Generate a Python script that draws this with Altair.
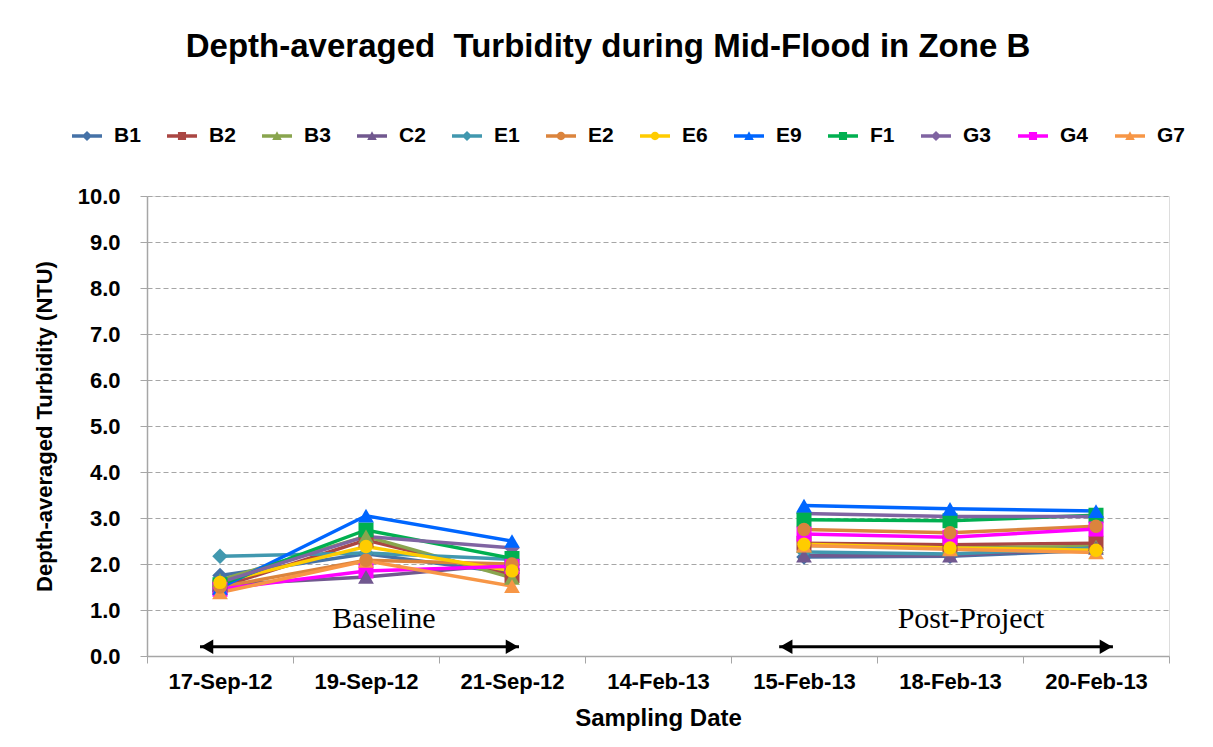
import altair as alt
import pandas as pd

dates = ["17-Sep-12", "19-Sep-12", "21-Sep-12", "14-Feb-13", "15-Feb-13", "18-Feb-13", "20-Feb-13"]
sampled_dates = ["17-Sep-12", "19-Sep-12", "21-Sep-12", "15-Feb-13", "18-Feb-13", "20-Feb-13"]
periods = ["Baseline", "Baseline", "Baseline", "Post-Project", "Post-Project", "Post-Project"]

stations = ["B1", "B2", "B3", "C2", "E1", "E2", "E6", "E9", "F1", "G3", "G4", "G7"]
colors = ["#4572A7", "#AA4643", "#89A54E", "#71588F", "#4198AF", "#DB843D",
          "#FFCC00", "#0066FF", "#00B050", "#8064A2", "#FF00FF", "#F79646"]
markers = ["diamond", "square", "triangle-up", "triangle-up", "diamond", "circle",
           "circle", "triangle-up", "square", "diamond", "square", "triangle-up"]

B1 = [1.75, 2.22, 1.80, 2.15, 2.17, 2.30]
B2 = [1.50, 2.52, 1.75, 2.45, 2.42, 2.45]
B3 = [1.65, 2.60, 1.70, 2.40, 2.35, 2.38]
C2 = [1.55, 1.72, 2.00, 2.18, 2.18, 2.35]
E1 = [2.17, 2.24, 2.10, 2.26, 2.22, 2.35]
E2 = [1.50, 2.08, 2.00, 2.75, 2.68, 2.82]
E6 = [1.60, 2.38, 1.85, 2.43, 2.35, 2.30]
E9 = [1.48, 3.05, 2.50, 3.27, 3.20, 3.15]
F1 = [1.55, 2.74, 2.12, 2.96, 2.94, 3.06]
G3 = [1.60, 2.60, 2.35, 3.10, 3.03, 3.03]
G4 = [1.45, 1.85, 1.95, 2.65, 2.58, 2.76]
G7 = [1.38, 2.07, 1.52, 2.40, 2.32, 2.25]
series = [B1, B2, B3, C2, E1, E2, E6, E9, F1, G3, G4, G7]

ann_labels = ["Baseline", "Post-Project"]
ann_start = ["17-Sep-12", "15-Feb-13"]
ann_end = ["21-Sep-12", "20-Feb-13"]
ann_mid = ["19-Sep-12", "18-Feb-13"]
ann_arrow_y = [0.2, 0.2]
ann_text_y = [0.6, 0.6]

rows = []
for s, m, vals in zip(stations, markers, series):
    for i, (d, p, v) in enumerate(zip(sampled_dates, periods, vals)):
        rows.append(dict(Station=s, Marker=m, Date=d, Period=p, Turbidity=v, idx=i))
df = pd.DataFrame(rows)

ann = pd.DataFrame(dict(label=ann_labels, start=ann_start, end=ann_end, mid=ann_mid,
                        ay=ann_arrow_y, ty=ann_text_y))

# legend symbols: short line segment + marker (custom SVG paths in unit square)
bar = "M-1,-0.11H1V0.11H-1Z "
legend_shape_paths = {
    "diamond": bar + "M0,-0.34L0.34,0L0,0.34L-0.34,0Z",
    "square": bar + "M-0.27,-0.27H0.27V0.27H-0.27Z",
    "triangle-up": bar + "M0,-0.32L0.32,0.26L-0.32,0.26Z",
    "circle": bar + "M-0.28,0A0.28,0.28,0,1,1,0.28,0A0.28,0.28,0,1,1,-0.28,0Z",
}
legend_paths = [legend_shape_paths[m] for m in markers]

FONT = "Liberation Sans"
GRID = "#a6a6a6"

xscale = alt.Scale(domain=dates, type="band", paddingInner=0, paddingOuter=0)
yscale = alt.Scale(domain=[0, 10], nice=False, zero=True)

xaxis = alt.Axis(title="Sampling Date", labelAngle=0, tickBand="extent", grid=False,
                 labelFont=FONT, labelFontSize=22, labelFontWeight="bold", labelColor="#000",
                 titleFont=FONT, titleFontSize=24, titleFontWeight="bold", titleColor="#000",
                 tickSize=7, tickColor=GRID, domainColor=GRID, domainWidth=1.5,
                 labelPadding=8, titlePadding=14)
yaxis = alt.Axis(title="Depth-averaged Turbidity (NTU)", values=list(range(0, 11)), format=".1f",
                 labelFont=FONT, labelFontSize=22, labelFontWeight="bold", labelColor="#000",
                 titleFont=FONT, titleFontSize=22, titleFontWeight="bold", titleColor="#000",
                 tickSize=7, tickColor=GRID, domainColor=GRID, domainWidth=1.5,
                 grid=True, gridColor=GRID, gridDash=[5, 3], gridWidth=1.2,
                 labelPadding=20, titlePadding=21)

x_enc = alt.X("Date:N", scale=xscale, sort=dates, axis=xaxis)
y_enc = alt.Y("Turbidity:Q", scale=yscale, axis=yaxis)

base = alt.Chart(df)

# series lines (stroke channel, no legend)
lines = base.mark_line(strokeWidth=3.5).encode(
    x=x_enc, y=y_enc,
    stroke=alt.Stroke("Station:N", scale=alt.Scale(range=colors), legend=None),
    detail="Period:N",
    order="idx:Q",
)

marker_sizes = {"diamond": 240, "square": 225, "triangle-up": 250, "circle": 180}
point_layers = []
for m in ["diamond", "square", "triangle-up", "circle"]:
    point_layers.append(
        base.transform_filter(alt.datum.Marker == m)
        .mark_point(filled=True, opacity=1, size=marker_sizes[m], strokeWidth=0)
        .encode(x=x_enc, y=y_enc, shape=alt.value(m),
                fill=alt.Fill("Station:N", scale=alt.Scale(range=colors), legend=None))
    )

leg = alt.Legend(title=None, orient="none", legendX=-75, legendY=-75, direction="horizontal",
                 columns=12, columnPadding=26, labelOffset=12, symbolSize=900,
                 symbolStrokeWidth=0, labelFont=FONT, labelFontSize=21, labelFontWeight="bold",
                 labelColor="#000", symbolOpacity=1)
legend_layer = base.transform_filter("datum.Turbidity < 0").mark_point(
    filled=True, opacity=1, size=900, strokeWidth=0
).encode(
    x=x_enc, y=y_enc,
    color=alt.Color("Station:N", scale=alt.Scale(domain=stations, range=colors), legend=leg),
    shape=alt.Shape("Station:N", scale=alt.Scale(domain=stations, range=legend_paths), legend=leg),
)

ann_layers = []
band_pos = {"Baseline": (0.363, 0.548, 18), "Post-Project": (0.33, 0.616, 21)}
for lab in ann_labels:
    lo, hi, tdx = band_pos[lab]
    a = alt.Chart(ann).transform_filter(alt.datum.label == lab)
    shaft = a.mark_rule(color="#000", strokeWidth=3).encode(
        x=alt.X("start:N", scale=xscale, bandPosition=lo),
        x2=alt.X2("end", bandPosition=hi),
        y=alt.Y("ay:Q", scale=yscale),
    )
    head_l = a.mark_point(shape="triangle-left", filled=True, opacity=1, color="#000",
                          size=210, xOffset=7).encode(
        x=alt.X("start:N", scale=xscale, bandPosition=lo),
        y=alt.Y("ay:Q", scale=yscale),
    )
    head_r = a.mark_point(shape="triangle-right", filled=True, opacity=1, color="#000",
                          size=210, xOffset=-7).encode(
        x=alt.X("end:N", scale=xscale, bandPosition=hi),
        y=alt.Y("ay:Q", scale=yscale),
    )
    txt = a.mark_text(font="Liberation Serif", fontSize=30, color="#000", dx=tdx,
                      baseline="alphabetic", align="center").encode(
        x=alt.X("mid:N", scale=xscale),
        y=alt.Y("ty:Q", scale=yscale),
        text="label:N",
    )
    ann_layers += [shaft, head_l, head_r, txt]

chart = alt.layer(lines, *point_layers, legend_layer, *ann_layers).properties(
    width=1022, height=460,
    title=alt.TitleParams("Depth-averaged\u00a0 Turbidity during Mid-Flood in Zone B",
                          font=FONT, fontSize=33, fontWeight="bold", color="#000",
                          anchor="middle", offset=57, dx=-50),
    autosize=alt.AutoSizeParams(type="none"),
    padding={"left": 139, "top": 188, "right": 36, "bottom": 83},
).configure_view(stroke=GRID, strokeWidth=2).configure(background="#ffffff")

chart.save("out.html", embed_options={"renderer": "svg", "actions": False})
